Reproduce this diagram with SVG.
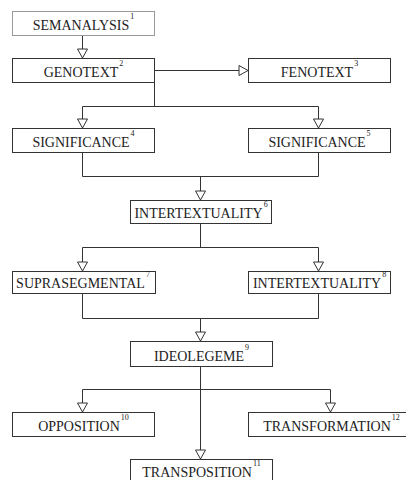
<svg xmlns="http://www.w3.org/2000/svg" width="406" height="480" viewBox="0 0 406 480">
<style>
.box{fill:#fff;stroke:#333;stroke-width:1}
.box.light{stroke:#999}
.lbl{font-family:"Liberation Serif","Times New Roman",serif;font-size:14px;fill:#222;text-anchor:middle}
.sup{font-size:8px}
.ln{fill:none;stroke:#333;stroke-width:1}
</style>
<defs>
<marker id="ah" markerUnits="userSpaceOnUse" markerWidth="12" markerHeight="12" viewBox="-1 -1 12 12" refX="9" refY="5" orient="auto">
<path d="M0,0 L9,5 L0,10 Z" fill="#fff" stroke="#333" stroke-width="1"/>
</marker>
</defs>
<rect width="406" height="480" fill="#fff"/>
<g id="connectors">
<path class="ln" d="M82.5,35 V58" marker-end="url(#ah)"/>
<path class="ln" d="M154,70.5 H248" marker-end="url(#ah)"/>
<path class="ln" d="M154.5,82 V106.5 M82.5,106.5 H318.5"/>
<path class="ln" d="M82.5,106.5 V128" marker-end="url(#ah)"/>
<path class="ln" d="M318.5,106.5 V128" marker-end="url(#ah)"/>
<path class="ln" d="M82.5,152 V176.5 H318.5 V152"/>
<path class="ln" d="M200.5,176.5 V200" marker-end="url(#ah)"/>
<path class="ln" d="M200.5,223 V247.5 M82.5,247.5 H318.5"/>
<path class="ln" d="M82.5,247.5 V271" marker-end="url(#ah)"/>
<path class="ln" d="M318.5,247.5 V271" marker-end="url(#ah)"/>
<path class="ln" d="M82.5,293 V318.5 H318.5 V293"/>
<path class="ln" d="M200.5,318.5 V341" marker-end="url(#ah)"/>
<path class="ln" d="M200.5,366 V459" marker-end="url(#ah)"/>
<path class="ln" d="M82.5,389.5 H330.5"/>
<path class="ln" d="M82.5,389.5 V412" marker-end="url(#ah)"/>
<path class="ln" d="M330.5,389.5 V412" marker-end="url(#ah)"/>
</g>
<g id="n1"><rect class="box light" x="12.5" y="11.5" width="142" height="24"/><text class="lbl" x="83.5" y="30">SEMANALYSIS<tspan class="sup" dx="1" dy="-11">1</tspan></text></g>
<g id="n2"><rect class="box" x="12.5" y="58.5" width="142" height="24"/><text class="lbl" x="83.5" y="77">GENOTEXT<tspan class="sup" dx="1" dy="-11">2</tspan></text></g>
<g id="n3"><rect class="box" x="248.5" y="58.5" width="142" height="24"/><text class="lbl" x="319.5" y="77">FENOTEXT<tspan class="sup" dx="1" dy="-11">3</tspan></text></g>
<g id="n4"><rect class="box" x="12.5" y="128.5" width="142" height="24"/><text class="lbl" x="83.5" y="147">SIGNIFICANCE<tspan class="sup" dx="1" dy="-11">4</tspan></text></g>
<g id="n5"><rect class="box" x="248.5" y="128.5" width="142" height="24"/><text class="lbl" x="319.5" y="147">SIGNIFICANCE<tspan class="sup" dx="1" dy="-11">5</tspan></text></g>
<g id="n6"><rect class="box" x="130.5" y="200.5" width="141" height="23"/><text class="lbl" x="201" y="218">INTERTEXTUALITY<tspan class="sup" dx="1" dy="-11">6</tspan></text></g>
<g id="n7"><rect class="box" x="12.5" y="271.5" width="143" height="22"/><text class="lbl" x="83" y="288">SUPRASEGMENTAL<tspan class="sup" dx="1" dy="-11">7</tspan></text></g>
<g id="n8"><rect class="box" x="248.5" y="271.5" width="142" height="22"/><text class="lbl" x="319.5" y="288">INTERTEXTUALITY<tspan class="sup" dx="1" dy="-11">8</tspan></text></g>
<g id="n9"><rect class="box" x="130.5" y="341.5" width="142" height="25"/><text class="lbl" x="201.5" y="361">IDEOLEGEME<tspan class="sup" dx="1" dy="-11">9</tspan></text></g>
<g id="n10"><rect class="box" x="12.5" y="412.5" width="142" height="24"/><text class="lbl" x="83.5" y="431">OPPOSITION<tspan class="sup" dx="1" dy="-11">10</tspan></text></g>
<g id="n12"><rect class="box" x="248.5" y="412.5" width="166" height="24"/><text class="lbl" x="331.5" y="431">TRANSFORMATION<tspan class="sup" dx="1" dy="-11">12</tspan></text></g>
<g id="n11"><rect class="box" x="130.5" y="459.5" width="142" height="30"/><text class="lbl" x="201.5" y="477">TRANSPOSITION<tspan class="sup" dx="1" dy="-11">11</tspan></text></g>
</svg>
